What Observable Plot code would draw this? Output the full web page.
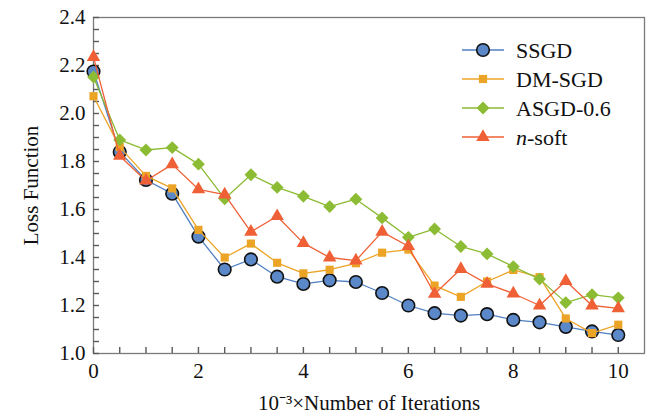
<!DOCTYPE html>
<html>
<head>
<meta charset="utf-8">
<script src="https://cdn.jsdelivr.net/npm/d3@7"></script>
<script src="https://cdn.jsdelivr.net/npm/@observablehq/plot@0.6"></script>
<style>
  html, body { margin: 0; padding: 0; background: #fff; }
  #chart svg { display: block; }
  #chart svg, #chart svg text { font-family: 'Liberation Serif', 'Times New Roman', serif !important; }
</style>
</head>
<body>
<div id="chart"></div>
<script>
const iterations = [0, 0.5, 1, 1.5, 2, 2.5, 3, 3.5, 4, 4.5, 5, 5.5, 6, 6.5, 7, 7.5, 8, 8.5, 9, 9.5, 10];
const ssgd   = [2.175, 1.84, 1.723, 1.666, 1.487, 1.35, 1.392, 1.32, 1.29, 1.305, 1.298, 1.252, 1.2, 1.168, 1.158, 1.164, 1.14, 1.13, 1.111, 1.092, 1.077];
const dmsgd  = [2.072, 1.86, 1.74, 1.688, 1.515, 1.4, 1.458, 1.378, 1.334, 1.349, 1.376, 1.42, 1.433, 1.283, 1.236, 1.3, 1.348, 1.318, 1.146, 1.085, 1.12];
const asgd   = [2.152, 1.89, 1.848, 1.858, 1.789, 1.645, 1.745, 1.692, 1.655, 1.612, 1.643, 1.565, 1.484, 1.519, 1.446, 1.415, 1.362, 1.31, 1.212, 1.245, 1.232];
const nsoft  = [2.235, 1.823, 1.72, 1.788, 1.684, 1.662, 1.507, 1.572, 1.46, 1.4, 1.387, 1.507, 1.447, 1.248, 1.352, 1.29, 1.25, 1.2, 1.302, 1.2, 1.188];
const seriesNames = ["SSGD", "DM-SGD", "ASGD-0.6", "n-soft"];
const xTicks = [0, 2, 4, 6, 8, 10];
const yTicks = [1.0, 1.2, 1.4, 1.6, 1.8, 2.0, 2.2, 2.4];

const styles = [
  {line: "#4f7fc2", fill: "#5b88c9", stroke: "#111", symbol: "circle", r: 6.3, sw: 1.6},
  {line: "#eca427", fill: "#eca427", stroke: "none", symbol: "square", r: 4.6, sw: 0},
  {line: "#8cbb34", fill: "#8cbb34", stroke: "none", symbol: "diamond2", r: 5.8, sw: 0},
  {line: "#ef6036", fill: "#ef6036", stroke: "none", symbol: "triangle", r: 5.0, sw: 0}
];
const values = [ssgd, dmsgd, asgd, nsoft];

const serif = "'Liberation Serif', 'Times New Roman', serif";

const W = 648, H = 418, ML = 93, MR = 4, MT = 17, MB = 65, TICK = 6;

const rows = values.map((v, i) => iterations.map((x, j) => ({x, y: v[j], s: seriesNames[i]})));

const xMinor = d3.range(0, 10.01, 0.5);
const yMinor = d3.range(1.0, 2.401, 0.05).map(d => +d.toFixed(2));

function legend(index, scales, vals, dims) {
  const g = d3.create("svg:g").attr("text-anchor", "start");
  const right = dims.width - dims.marginRight;
  const x0 = right - 182, x1 = right - 140, xm = right - 161, xt = right - 128;
  seriesNames.forEach((name, i) => {
    const st = styles[i];
    const y = dims.marginTop + 33 + i * 29;
    g.append("line").attr("x1", x0).attr("x2", x1).attr("y1", y).attr("y2", y)
      .attr("stroke", st.line).attr("stroke-width", 1.3);
    const sym = {circle: d3.symbolCircle, square: d3.symbolSquare, diamond2: d3.symbolDiamond2, triangle: d3.symbolTriangle}[st.symbol];
    g.append("path").attr("d", d3.symbol(sym, Math.PI * st.r * st.r)())
      .attr("transform", `translate(${xm},${y})`)
      .attr("fill", st.fill).attr("stroke", st.stroke).attr("stroke-width", st.sw);
    const t = g.append("text").attr("x", xt).attr("y", y).attr("dy", "0.35em")
      .attr("text-anchor", "start")
      .attr("font-family", serif).attr("font-size", 22).attr("fill", "#111");
    if (name === "n-soft") {
      t.append("tspan").attr("font-style", "italic").text("n");
      t.append("tspan").text("-soft");
    } else {
      t.text(name);
    }
  });
  return g.node();
}

const marks = [
  Plot.frame({stroke: "#7a7a7a", strokeWidth: 1.3}),
  Plot.ruleX(xMinor, {x: d => d, insetTop: (H - MT - MB) - TICK, stroke: "#5a5a5a", strokeWidth: 1.4}),
  Plot.ruleY(yMinor, {y: d => d, insetRight: (W - ML - MR) - TICK, stroke: "#5a5a5a", strokeWidth: 1.4}),
  Plot.axisX({ticks: xTicks, tickSize: 0, tickPadding: 10, tickFormat: d => String(d), fontSize: 21, fontFamily: serif, fill: "#111",
    label: "10⁻³×Number of Iterations", labelAnchor: "center", labelOffset: 56, labelArrow: "none"}),
  Plot.axisY({ticks: yTicks, tickSize: 0, tickPadding: 8, tickFormat: d => d.toFixed(1), fontSize: 21, fontFamily: serif, fill: "#111",
    label: "Loss Function", labelAnchor: "center", labelOffset: 70, labelArrow: "none"})
];
rows.forEach((data, i) => {
  const st = styles[i];
  marks.push(Plot.line(data, {x: "x", y: "y", stroke: st.line, strokeWidth: 1.3}));
  marks.push(Plot.dot(data, {x: "x", y: "y", symbol: st.symbol, r: st.r, fill: st.fill, stroke: st.stroke, strokeWidth: st.sw}));
});
marks.push(legend);

const chart = Plot.plot({
  width: W,
  height: H,
  marginLeft: ML,
  marginRight: MR,
  marginTop: MT,
  marginBottom: MB,
  x: {domain: [0, 10.5]},
  y: {domain: [1.0, 2.4]},
  style: {fontFamily: serif, fontSize: "21px", color: "#111", background: "#fff"},
  marks
});
document.getElementById("chart").appendChild(chart);
</script>
</body>
</html>
